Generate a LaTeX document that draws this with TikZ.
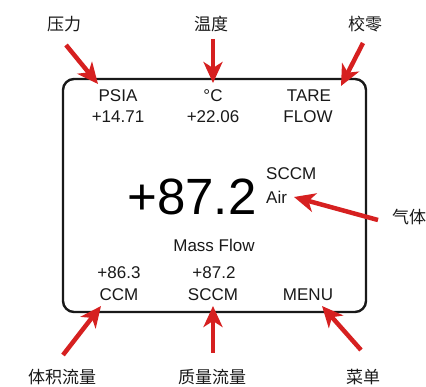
\documentclass[tikz,border=0pt]{standalone}
\usepackage{fontspec}
\setmainfont{Liberation Sans}
\newfontfamily\cjk{Noto Sans CJK SC}
\usetikzlibrary{arrows.meta}
\definecolor{arrowred}{RGB}{214,32,32}
\definecolor{txt}{RGB}{25,25,25}
\tikzset{
  lcd/.style={font=\fontsize{17}{17}\selectfont, text=txt, inner sep=0pt, anchor=center},
  cn/.style={font=\cjk\fontsize{17}{17}\selectfont, text=txt, inner sep=0pt, anchor=center},
  pointer/.style={draw=arrowred, line width=4.5pt, -{Stealth[length=21pt,width=19pt,inset=6pt]}},
}
\begin{document}
\begin{tikzpicture}[x=1pt,y=-1pt]
\useasboundingbox (0,0) rectangle (426,387);
% display frame
\draw[line width=2.4pt, rounded corners=11pt, draw=txt] (63,79) rectangle (366,312);
% display texts
\node[lcd] (psia) at (118,96) {PSIA};
\node[lcd] (pval) at (118,117) {+14.71};
\node[lcd] (degc) at (213,96) {°C};
\node[lcd] (tval) at (213,117) {+22.06};
\node[lcd] (tare) at (309,96) {TARE};
\node[lcd] (flow) at (308,117) {FLOW};
\node[font=\fontsize{51}{51}\selectfont, text=black, inner sep=0pt, anchor=center] (big) at (192,197) {+87.2};
\node[lcd, anchor=west] (sccmr) at (266,174) {SCCM};
\node[lcd, anchor=west] (air) at (266,197) {Air};
\node[lcd] (massflow) at (214,245) {Mass Flow};
\node[lcd] (vval) at (119,273) {+86.3};
\node[lcd] (ccm) at (119,295) {CCM};
\node[lcd] (mval) at (214,273) {+87.2};
\node[lcd] (sccm) at (213,295) {SCCM};
\node[lcd] (menu) at (308,295) {MENU};
% chinese labels
\node[cn] (lpress) at (64,24) {压力};
\node[cn] (ltemp) at (211,24) {温度};
\node[cn] (ltare) at (365,24) {校零};
\node[cn, anchor=west] (lgas) at (392,217) {气体};
\node[cn] (lvol) at (62,377) {体积流量};
\node[cn] (lmass) at (212,377) {质量流量};
\node[cn] (lmenu) at (363,377) {菜单};
% arrow ends
\coordinate (a1s) at (66,45);  \coordinate (a1e) at (98,84);
\coordinate (a2s) at (213,39); \coordinate (a2e) at (213,83);
\coordinate (a3s) at (363,43); \coordinate (a3e) at (341,86);
\coordinate (a4s) at (378,220); \coordinate (a4e) at (294,197);
\coordinate (a5s) at (63,355); \coordinate (a5e) at (101,306);
\coordinate (a6s) at (213,353); \coordinate (a6e) at (213,306);
\coordinate (a7s) at (361,350); \coordinate (a7e) at (322,306);
\draw[pointer] (a1s) -- (a1e);
\draw[pointer] (a2s) -- (a2e);
\draw[pointer] (a3s) -- (a3e);
\draw[pointer] (a4s) -- (a4e);
\draw[pointer] (a5s) -- (a5e);
\draw[pointer] (a6s) -- (a6e);
\draw[pointer] (a7s) -- (a7e);
\end{tikzpicture}
\end{document}
